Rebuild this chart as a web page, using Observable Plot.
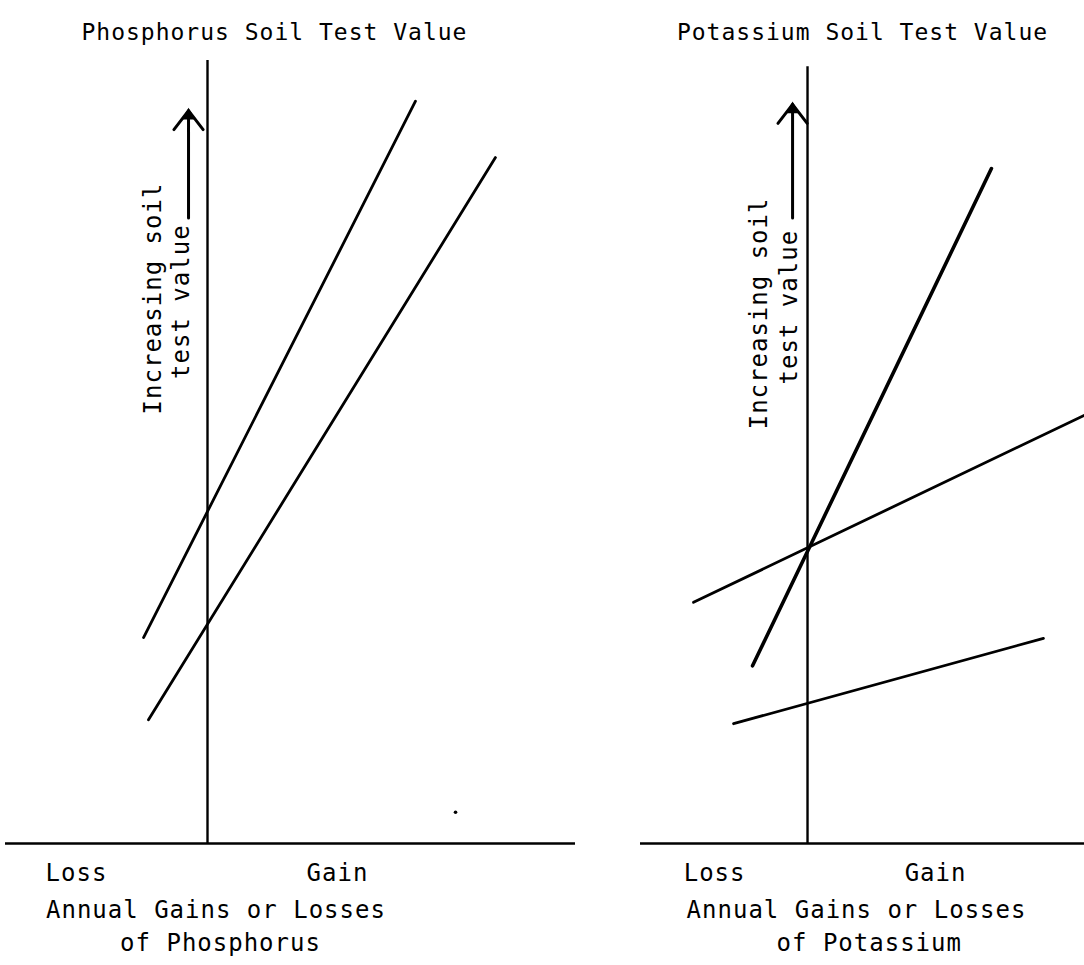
<!DOCTYPE html>
<html>
<head>
<meta charset="utf-8">
<script src="https://cdn.jsdelivr.net/npm/d3@7"></script>
<script src="https://cdn.jsdelivr.net/npm/@observablehq/plot@0.6"></script>
<style>
  html, body { margin: 0; padding: 0; background: #fff; }
  #wrap { display: flex; width: 1084px; height: 965px; overflow: hidden; }
</style>
</head>
<body>
<div id="wrap"></div>
<script>
// ---- Data (arbitrary units: x = annual gain(+)/loss(-), y = soil test value 0–100) ----
// Phosphorus panel
const pTitle = "Phosphorus Soil Test Value";
const pLines = [
  {x1: -0.492, y1: 26.3, x2: 1.600, y2: 94.8},
  {x1: -0.454, y1: 15.8, x2: 2.215, y2: 87.6}
];
const pSpeck = [{x: 1.908, y: 4.0}];
const pArrow = [{x: -0.146, y1: 79.9, y2: 93.6}];
const pSideLabels = [
  {x: -0.419, y: 69.6, text: "Increasing soil"},
  {x: -0.200, y: 69.2, text: "test value"}
];
const pBottomLabels = [
  {x: -1.008, dy: 37, text: "Loss"},
  {x: 1.000, dy: 37, text: "Gain"},
  {x: 0.065, dy: 74, text: "Annual Gains or Losses"},
  {x: 0.100, dy: 107, text: "of Phosphorus"}
];
const pAxisTop = 100;

// Potassium panel
const kTitle = "Potassium Soil Test Value";
const kLines = [
  {x1: -0.423, y1: 22.7, x2: 1.415, y2: 86.2, w: 3.6},
  {x1: -0.877, y1: 30.8, x2: 2.131, y2: 54.7, w: 2.8},
  {x1: -0.569, y1: 15.3, x2: 1.815, y2: 26.2, w: 2.8}
];
const kArrow = [{x: -0.115, y1: 79.9, y2: 94.4}];
const kSideLabels = [
  {x: -0.369, y: 67.7, text: "Increasing soil"},
  {x: -0.138, y: 68.5, text: "test value"}
];
const kBottomLabels = [
  {x: -0.715, dy: 37, text: "Loss"},
  {x: 0.985, dy: 37, text: "Gain"},
  {x: 0.377, dy: 74, text: "Annual Gains or Losses"},
  {x: 0.475, dy: 107, text: "of Potassium"}
];
const kAxisTop = 99.2;

// ---- Drawing ----
const FONT = "'DejaVu Sans Mono', 'Liberation Mono', monospace";
const FS = 24;

function panel({width, marginLeft, marginRight, xDomain, title, titleX, lines, speck, arrow, side, bottom, axisTop}) {
  const bottomGroups = d3.groups(bottom, d => d.dy);
  return Plot.plot({
    width, height: 965,
    marginTop: 60, marginBottom: 122, marginLeft, marginRight,
    x: {domain: xDomain, axis: null},
    y: {domain: [0, 100], axis: null},
    style: {fontFamily: FONT, fontSize: FS + "px", letterSpacing: "1px", color: "#000", background: "#fff", overflow: "visible"},
    marks: [
      Plot.ruleY([0], {stroke: "#000", strokeWidth: 2.4}),
      Plot.ruleX([0], {y1: 0, y2: axisTop, stroke: "#000", strokeWidth: 2.4}),
      Plot.link(lines, {x1: "x1", y1: "y1", x2: "x2", y2: "y2", stroke: "#000",
        strokeWidth: d => d.w ?? 2.8, strokeLinecap: "round", clip: true}),
      speck ? Plot.dot(speck, {x: "x", y: "y", r: 1.8, fill: "#000", stroke: null}) : null,
      Plot.arrow(arrow, {x1: "x", x2: "x", y1: "y1", y2: "y2", stroke: "#000", strokeWidth: 3,
        headLength: 12, headAngle: 75, insetStart: 0, insetEnd: 0}),
      Plot.dot(arrow, {x: "x", y: "y2", symbol: "triangle", r: 5, fill: "#000", stroke: null, dy: 5}),
      Plot.text(side, {x: "x", y: "y", text: "text", rotate: -90, fontSize: FS, fill: "#000"}),
      Plot.text([title], {x: () => titleX, frameAnchor: "top", dy: -37, fontSize: 23, fill: "#000"}),
      ...bottomGroups.map(([dy, rows]) =>
        Plot.text(rows, {x: "x", text: "text", frameAnchor: "bottom", dy, fontSize: FS, fill: "#000"}))
    ].filter(Boolean)
  });
}

const wrap = document.getElementById("wrap");
wrap.append(panel({
  width: 600, marginLeft: 5, marginRight: 25, xDomain: [-1.554, 2.831],
  title: pTitle, titleX: 0.515, lines: pLines, speck: pSpeck, arrow: pArrow,
  side: pSideLabels, bottom: pBottomLabels, axisTop: pAxisTop
}));
wrap.append(panel({
  width: 484, marginLeft: 40, marginRight: 0, xDomain: [-1.285, 2.131],
  title: kTitle, titleX: 0.423, lines: kLines, speck: null, arrow: kArrow,
  side: kSideLabels, bottom: kBottomLabels, axisTop: kAxisTop
}));
</script>
</body>
</html>
